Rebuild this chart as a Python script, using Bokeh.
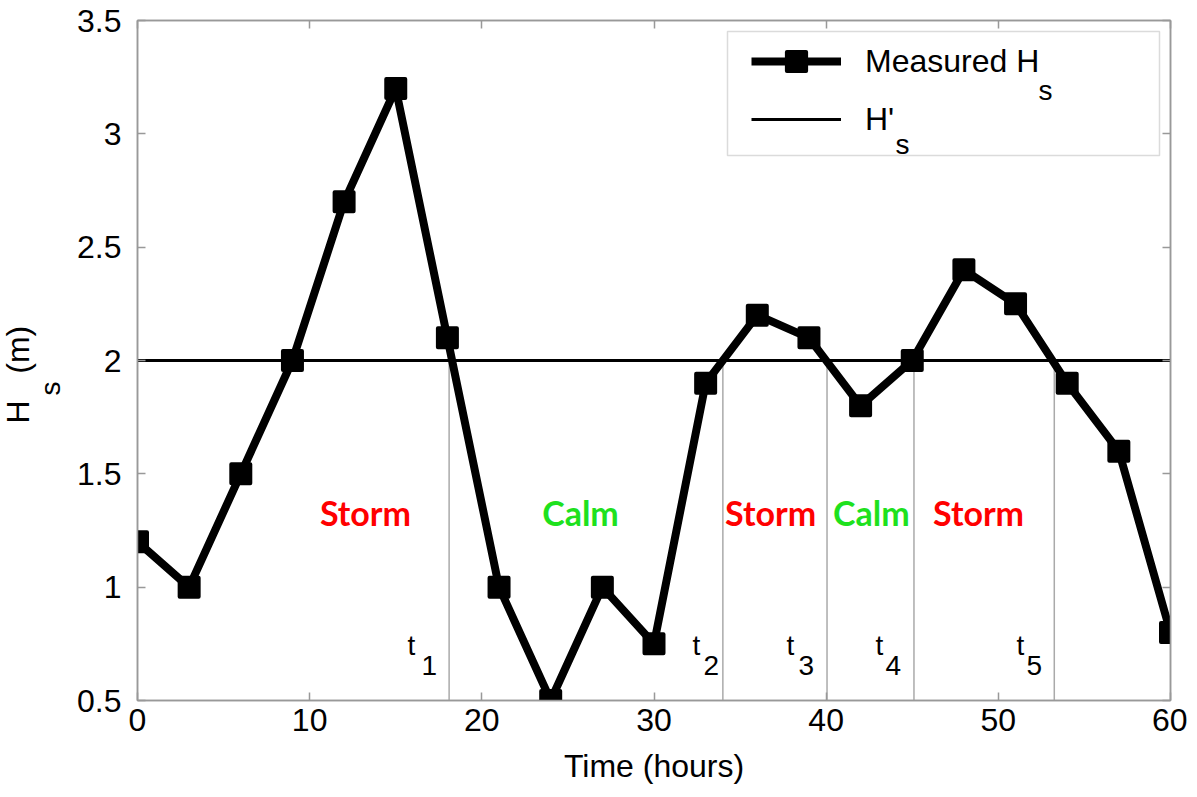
from bokeh.plotting import figure
from bokeh.models import (Label, BoxAnnotation, LinearAxis, CustomJSTickFormatter,
                          FixedTicker, Title)
from bokeh.core.properties import value
from bokeh.embed import file_html
from bokeh.resources import INLINE

# ---------------- data ----------------
time_h = [0, 3, 6, 9, 12, 15, 18, 21, 24, 27, 30, 33, 36, 39, 42, 45, 48, 51, 54, 57, 60]
hs_m = [1.2, 1.0, 1.5, 2.0, 2.7, 3.2, 2.1, 1.0, 0.5, 1.0, 0.75, 1.9, 2.2, 2.1, 1.8, 2.0,
        2.4, 2.25, 1.9, 1.6, 0.8]
threshold_hs = 2.0
t_times = [18.1, 34.0, 40.05, 45.1, 53.25]
t_subs = ["1", "2", "3", "4", "5"]
phase_names = ["Storm", "Calm", "Storm", "Calm", "Storm"]
phase_colors = ["#FF0000", "#1EE11E", "#FF0000", "#1EE11E", "#FF0000"]
x_ticks = [0, 10, 20, 30, 40, 50, 60]
y_ticks = [0.5, 1, 1.5, 2, 2.5, 3, 3.5]

# annotation placement (data units)
phase_x = [13.24, 25.73, 36.77, 42.63, 48.85]
phase_y = [1.33] * 5
t_label_x = [15.68, 32.24, 37.70, 42.87, 51.06]
t_label_y = [0.743] * 5
t_sub_x = [16.49, 32.87, 38.39, 43.45, 51.64]
t_sub_y = [0.654] * 5

FONT = "Liberation Sans"
AX = "#999999"

p = figure(frame_width=1033, frame_height=680, x_range=(0, 60), y_range=(0.5, 3.5),
           output_backend="svg", toolbar_location=None,
           min_border_left=137, min_border_right=17, min_border_top=20, min_border_bottom=60)
p.grid.visible = False
p.outline_line_color = AX
p.outline_line_width = 1.5
p.background_fill_color = "white"
p.border_fill_color = "white"

bottom_axis = p.below[0]
left_axis = p.left[0]
bottom_axis.ticker = FixedTicker(ticks=x_ticks)
left_axis.ticker = FixedTicker(ticks=y_ticks)
left_axis.formatter = CustomJSTickFormatter(code="return tick.toString()")

top_axis = LinearAxis(ticker=FixedTicker(ticks=x_ticks),
                      formatter=CustomJSTickFormatter(code="return ''"))
right_axis = LinearAxis(ticker=FixedTicker(ticks=y_ticks),
                        formatter=CustomJSTickFormatter(code="return ''"))
p.add_layout(top_axis, "above")
p.add_layout(right_axis, "right")

for ax in [bottom_axis, left_axis, top_axis, right_axis]:
    ax.axis_line_color = AX
    ax.axis_line_width = 1.5
    ax.major_tick_line_color = AX
    ax.major_tick_line_width = 1.5
    ax.major_tick_in = 8
    ax.major_tick_out = 0
    ax.minor_tick_line_color = None
    ax.major_label_text_font = FONT
    ax.major_label_text_font_size = "32px"
    ax.major_label_text_color = "black"

for ax in [top_axis, right_axis]:
    ax.major_label_text_font_size = "0px"
    ax.major_label_standoff = 0

bottom_axis.major_label_standoff = 8
left_axis.major_label_standoff = 16
bottom_axis.axis_label = "Time (hours)"
bottom_axis.axis_label_text_font = FONT
bottom_axis.axis_label_text_font_size = "32px"
bottom_axis.axis_label_text_font_style = "normal"
bottom_axis.axis_label_text_color = "black"
bottom_axis.axis_label_standoff = 14

# y-axis title "H_s (m)" as left-side titles
p.add_layout(Title(text="s", align="left", offset=305, vertical_align="top", standoff=14,
                   text_font=FONT, text_font_size="28px", text_font_style="normal",
                   text_color="black"), "left")
p.add_layout(Title(text="H\u00a0\u00a0\u00a0(m)", align="left", offset=277,
                   vertical_align="top", standoff=-20,
                   text_font=FONT, text_font_size="32px", text_font_style="normal",
                   text_color="black"), "left")

# vertical event lines from bottom to threshold
p.segment(x0=t_times, y0=[p.y_range.start] * len(t_times), x1=t_times,
          y1=[threshold_hs] * len(t_times), line_color="#AAAAAA", line_width=1.5)

# threshold line H's
p.line(x=[p.x_range.start, p.x_range.end], y=[threshold_hs, threshold_hs],
       line_width=3, line_color="black", legend_label="H'")

# measured series
p.line(time_h, hs_m, line_width=8, line_color="black", line_join="round",
       legend_label="Measured H")
p.scatter(time_h, hs_m, marker="square", size=19, fill_color="black", line_color="black",
          line_width=4, line_join="round", legend_label="Measured H")

# phase texts
p.text(x=phase_x, y=phase_y, text=phase_names, text_color=phase_colors,
       text_font=value("Lato"), text_font_style="bold", text_font_size="34px",
       text_align="center", text_baseline="middle")

# t_i labels
p.text(x=t_label_x, y=t_label_y, text=["t"] * len(t_subs), text_color="black",
       text_font=value(FONT), text_font_size="28px", text_align="left",
       text_baseline="alphabetic")
p.text(x=t_sub_x, y=t_sub_y, text=t_subs, text_color="black",
       text_font=value(FONT), text_font_size="28px", text_align="left",
       text_baseline="alphabetic")

# legend box and legend
p.add_layout(BoxAnnotation(left=590, right=1022, top=669, bottom=545,
                           left_units="screen", right_units="screen",
                           top_units="screen", bottom_units="screen",
                           fill_alpha=0, fill_color=None, line_color="#888888", line_width=1.5))
lg = p.legend[0]
lg.items = [lg.items[1], lg.items[0]]
lg.location = (603, 546)
lg.glyph_width = 90
lg.glyph_height = 48
lg.label_height = 48
lg.spacing = 10
lg.padding = 11
lg.margin = 0
lg.label_standoff = 24
lg.border_line_alpha = 0
lg.background_fill_alpha = 0
lg.label_text_font = FONT
lg.label_text_font_size = "32px"
lg.label_text_color = "black"

# subscripts in legend
p.add_layout(Label(x=901, y=610, x_units="screen", y_units="screen", text="s",
                   text_font=FONT, text_font_size="28px", text_color="black",
                   text_baseline="alphabetic"))
p.add_layout(Label(x=758, y=556, x_units="screen", y_units="screen", text="s",
                   text_font=FONT, text_font_size="28px", text_color="black",
                   text_baseline="alphabetic"))

open("out.html", "w").write(file_html(p, INLINE))
